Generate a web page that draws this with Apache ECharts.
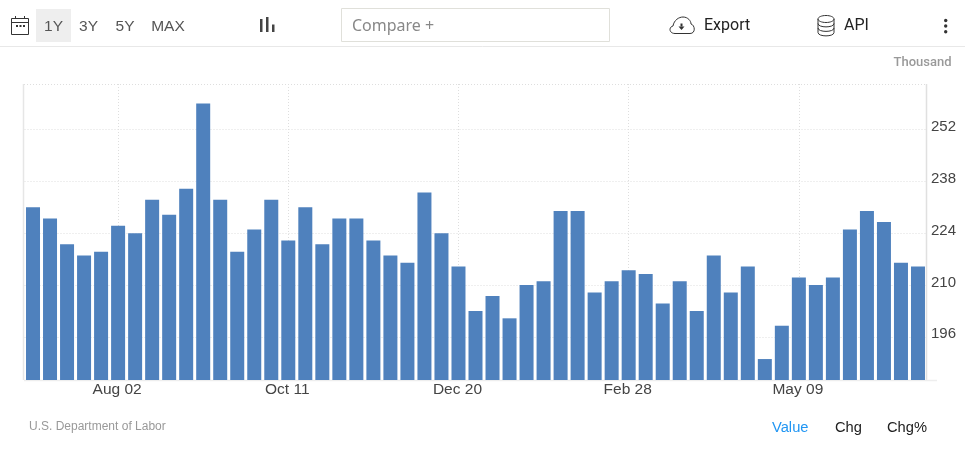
<!DOCTYPE html>
<html>
<head>
<meta charset="utf-8">
<title>Initial Jobless Claims</title>
<script src="https://cdn.jsdelivr.net/npm/echarts@6/dist/echarts.min.js"></script>
<style>
  html, body { margin: 0; padding: 0; background: #fff; }
  #chart { width: 965px; height: 459px; }
</style>
</head>
<body>
<div id="chart"></div>
<script>
// Weekly readings, thousands
const weeks = [
  'Jun 28','Jul 05','Jul 12','Jul 19','Jul 26','Aug 02','Aug 09','Aug 16','Aug 23','Aug 30',
  'Sep 06','Sep 13','Sep 20','Sep 27','Oct 04','Oct 11','Oct 18','Oct 25','Nov 01','Nov 08',
  'Nov 15','Nov 22','Nov 29','Dec 06','Dec 13','Dec 20','Dec 27','Jan 03','Jan 10','Jan 17',
  'Jan 24','Jan 31','Feb 07','Feb 14','Feb 21','Feb 28','Mar 07','Mar 14','Mar 21','Mar 28',
  'Apr 04','Apr 11','Apr 18','Apr 25','May 02','May 09','May 16','May 23','May 30','Jun 06',
  'Jun 13','Jun 20','Jun 27'
];
const claims = [
  231, 228, 221, 218, 219, 226, 224, 233, 229, 236,
  259, 233, 219, 225, 233, 222, 231, 221, 228, 228,
  222, 218, 216, 235, 224, 215, 203, 207, 201, 210,
  211, 230, 230, 208, 211, 214, 213, 205, 211, 203,
  218, 208, 215, 190, 199, 212, 210, 212, 225, 230,
  227, 216, 215
];
const valueTicks = [196, 210, 224, 238, 252];
const labelledWeeks = ['Aug 02', 'Oct 11', 'Dec 20', 'Feb 28', 'May 09'];
const rangeButtons = ['1Y', '3Y', '5Y', 'MAX'];

const sans = '"Liberation Sans", Arial, sans-serif';
const gridColor = '#dedede';
const isLabelled = (i) => labelledWeeks.includes(weeks[i]);

// Icon outlines for the toolbar
echarts.graphic.registerShape('cloudIcon', echarts.graphic.extendPath(
  'M675 33.5 C669 33.5 668.5 27 673 26 C674 20 679 17 683 17 C688 17 691 21 691 24 C695 25 696 33.5 690 33.5 Z'
));
echarts.graphic.registerShape('stackIcon', echarts.graphic.extendPath(
  'M818 19 L818 32.5 C818 37 834 37 834 32.5 L834 19 M818 23.5 C818 28 834 28 834 23.5 M818 28 C818 32.5 834 32.5 834 28'
));

function text(x, y, str, color, size, family, align, weight) {
  return {
    type: 'text', x, y, silent: true,
    style: {
      text: str, fill: color, fontSize: size, fontFamily: family || sans,
      fontWeight: weight || 'normal', align: align || 'left', verticalAlign: 'middle'
    }
  };
}
function stroke(shape, type, color, width, extra) {
  return {
    type, shape, silent: true,
    style: Object.assign({ stroke: color, lineWidth: width || 1, fill: 'none' }, extra || {})
  };
}
function block(x, y, width, height, color) {
  return { type: 'rect', shape: { x, y, width, height }, silent: true, style: { fill: color } };
}
function dot(cx, cy, r, color) {
  return { type: 'circle', shape: { cx, cy, r }, silent: true, style: { fill: color } };
}

const rangeX = [53.5, 88.5, 125, 168];

const toolbar = [
  stroke({ x1: 0, y1: 46.5, x2: 965, y2: 46.5 }, 'line', '#e8e8e8'),
  // calendar icon
  stroke({ x: 11.5, y: 18.5, width: 17, height: 16 }, 'rect', '#333'),
  stroke({ x1: 11.5, y1: 22.5, x2: 28.5, y2: 22.5 }, 'line', '#333'),
  stroke({ x1: 15.5, y1: 16, x2: 15.5, y2: 19 }, 'line', '#333'),
  stroke({ x1: 24.5, y1: 16, x2: 24.5, y2: 19 }, 'line', '#333'),
  block(16, 25, 2, 2, '#333'), block(19.5, 25, 2, 2, '#333'), block(23, 25, 2, 2, '#333'),
  // range selector
  block(36, 9, 35, 33, '#eeeeee'),
  ...rangeButtons.map((b, i) => text(rangeX[i], 26.5, b, '#555', 15.5, sans, 'center')),
  // chart type icon
  block(260, 19, 2.5, 13, '#444'), block(266, 17, 2.5, 15, '#444'), block(272, 24.5, 2.5, 7.5, '#444'),
  // compare box
  stroke({ x: 341.5, y: 8.5, width: 268, height: 33 }, 'rect', '#e0e0da'),
  text(352, 26, 'Compare +', '#888', 16, '"Noto Sans", sans-serif'),
  // export icon
  stroke({}, 'cloudIcon', '#333'),
  block(680.5, 23.5, 2, 3, '#333'),
  {
    type: 'polygon', silent: true,
    shape: { points: [[678.5, 26.5], [684.5, 26.5], [681.5, 30]] },
    style: { fill: '#333' }
  },
  text(704, 25.5, 'Export', '#222', 16, 'Roboto, sans-serif'),
  // API icon
  stroke({ cx: 826, cy: 19, rx: 8, ry: 3.5 }, 'ellipse', '#333'),
  stroke({}, 'stackIcon', '#333'),
  text(844, 25.5, 'API', '#222', 16, 'Roboto, sans-serif'),
  // overflow menu
  dot(945.7, 20.5, 1.7, '#333'), dot(945.7, 26, 1.7, '#333'), dot(945.7, 31.7, 1.7, '#333')
];

const frame = [
  text(951.5, 63, 'Thousand', '#999', 13, 'Roboto, sans-serif', 'right', 500),
  stroke({ x1: 24, y1: 84.5, x2: 926, y2: 84.5 }, 'line', gridColor, 1, { lineDash: [1, 2] }),
  stroke({ x1: 23.5, y1: 84, x2: 23.5, y2: 380 }, 'line', '#e6e6e6', 1.5),
  stroke({ x1: 926.5, y1: 84, x2: 926.5, y2: 380 }, 'line', '#e0e0e0', 1.5),
  stroke({ x1: 24, y1: 380.5, x2: 937, y2: 380.5 }, 'line', '#eeeeee', 1.5)
];

const footer = [
  text(29, 427, 'U.S. Department of Labor', '#999', 12),
  text(772, 427.5, 'Value', '#2196f3', 14.7),
  text(835, 427.5, 'Chg', '#222', 14.7),
  text(887, 427.5, 'Chg%', '#222', 14.7)
];

const chart = echarts.init(document.getElementById('chart'));
chart.setOption({
  animation: false,
  backgroundColor: '#fff',
  grid: { left: 24.5, right: 38.5, top: 84, bottom: 79, containLabel: false },
  xAxis: {
    type: 'category',
    data: weeks,
    boundaryGap: true,
    axisLine: { show: false },
    axisTick: { show: false, alignWithLabel: true, interval: (i) => isLabelled(i) },
    axisLabel: {
      interval: (i) => isLabelled(i),
      color: '#444', fontSize: 15.5, fontFamily: sans, margin: 1, padding: [0, 2, 0, 0],
      verticalAlign: 'top', lineHeight: 18, hideOverlap: false
    },
    splitLine: {
      show: true, alignWithLabel: true, interval: (i) => isLabelled(i),
      lineStyle: { color: gridColor, type: [1, 2], width: 1 }
    }
  },
  yAxis: {
    type: 'value',
    position: 'right',
    min: 184.34,
    max: 264.3,
    axisLine: { show: false },
    axisTick: { show: false, customValues: valueTicks },
    axisLabel: {
      customValues: valueTicks,
      color: '#444', fontSize: 15, fontFamily: sans, margin: 4.5, align: 'left',
      verticalAlign: 'bottom', lineHeight: 5
    },
    splitLine: { show: true, lineStyle: { color: gridColor, type: [1, 2], width: 1 } }
  },
  series: [{
    type: 'bar',
    data: claims,
    barWidth: 14,
    itemStyle: { color: '#4f81bd' },
    silent: true
  }],
  graphic: { elements: [...toolbar, ...frame, ...footer] }
});
</script>
</body>
</html>
